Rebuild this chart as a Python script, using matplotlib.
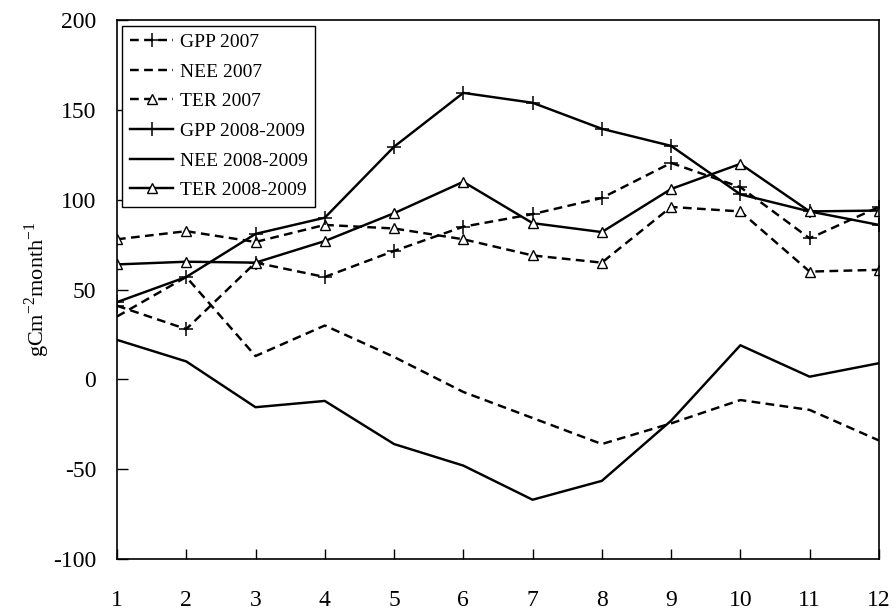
import numpy as np
import matplotlib
matplotlib.use("Agg")
import matplotlib.pyplot as plt

plt.rcParams['font.family'] = ['Liberation Serif', 'DejaVu Serif']
plt.rcParams['mathtext.fontset'] = 'custom'
plt.rcParams['mathtext.rm'] = 'Liberation Serif'
plt.rcParams['axes.unicode_minus'] = False

# Monthly values
months = np.arange(1, 13)
gpp_2007 = [41, 28, 65, 57, 71.5, 85, 92, 101, 120.5, 107, 78.5, 96]
nee_2007 = [35, 57, 13, 30, 12.5, -7, -21.5, -36, -24.5, -11.5, -17, -34]
ter_2007 = [78, 82.5, 76.5, 86, 84, 78, 69, 65, 96, 93.5, 60, 61]
gpp_0809 = [43, 57, 81, 90, 129.5, 159.5, 154, 139.5, 130, 103, 93.5, 86]
nee_0809 = [22, 10, -15.5, -12, -36, -48, -67, -56.5, -23, 19, 1.5, 9]
ter_0809 = [64, 65.5, 65, 77, 92.5, 110, 87, 82, 106, 120, 93.5, 94]

dash = (0, (3.6, 2.2))
lw = 1.75

fig, ax = plt.subplots(figsize=(8.95, 6.1), dpi=100)
fig.subplots_adjust(left=0.1307, right=0.982, top=0.967, bottom=0.0836)

ax.plot(months, gpp_2007, color='black', linestyle=dash, linewidth=lw,
        marker='+', markersize=10, markeredgewidth=1.1, label='GPP 2007')
ax.plot(months, nee_2007, color='black', linestyle=dash, linewidth=lw,
        label='NEE 2007')
ax.plot(months, ter_2007, color='black', linestyle=dash, linewidth=lw,
        marker='^', markersize=7, markerfacecolor='white', markeredgewidth=1.0,
        label='TER 2007')
ax.plot(months, gpp_0809, color='black', linestyle='-', linewidth=lw,
        marker='+', markersize=10, markeredgewidth=1.1, label='GPP 2008-2009')
ax.plot(months, nee_0809, color='black', linestyle='-', linewidth=lw,
        label='NEE 2008-2009')
ax.plot(months, ter_0809, color='black', linestyle='-', linewidth=lw,
        marker='^', markersize=7, markerfacecolor='white', markeredgewidth=1.0,
        label='TER 2008-2009')

ax.set_xlim(1, 12)
ax.set_ylim(-100, 200)
ax.set_xticks(months)
ax.set_yticks(np.arange(-100, 201, 50))
ax.tick_params(axis='x', direction='in', length=7, width=1, pad=22, labelsize=17)
ax.tick_params(axis='y', direction='in', length=8, width=1, pad=15, labelsize=17)
for sp in ax.spines.values():
    sp.set_linewidth(1.2)

ax.set_ylabel(r'gCm$^{\mathregular{-2}}$month$^{\mathregular{-1}}$', fontsize=16, labelpad=1)

leg = ax.legend(loc='upper left', fontsize=14, frameon=True, fancybox=False,
                edgecolor='black', framealpha=1, handlelength=2.2,
                handletextpad=0.35, labelspacing=0.62, borderaxespad=0.28,
                borderpad=0.4)
leg.get_frame().set_linewidth(1.0)

fig.savefig('out.png', dpi=100)
